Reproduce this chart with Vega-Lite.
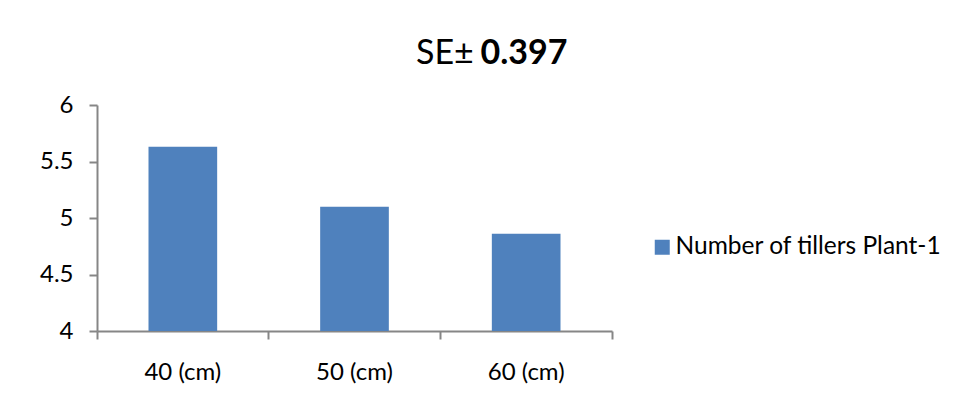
{
  "$schema": "https://vega.github.io/schema/vega-lite/v6.json",
  "width": 515,
  "height": 226,
  "autosize": {"type": "none"},
  "padding": {"left": 97, "top": 105, "right": 347, "bottom": 84},
  "background": "white",
  "title": {
    "text": "SE±",
    "anchor": "start",
    "frame": "group",
    "dx": 319,
    "align": "left",
    "font": "Lato",
    "fontSize": 34,
    "fontWeight": "normal",
    "color": "#000000",
    "offset": -35
  },
  "data": {
    "values": [
      {"spacing": "40 (cm)", "tillers": 5.63, "series": "Number of tillers Plant-1"},
      {"spacing": "50 (cm)", "tillers": 5.10, "series": "Number of tillers Plant-1"},
      {"spacing": "60 (cm)", "tillers": 4.86, "series": "Number of tillers Plant-1"}
    ]
  },
  "mark": {"type": "bar", "width": {"band": 0.4}, "clip": true},
  "encoding": {
    "x": {
      "field": "spacing",
      "type": "nominal",
      "sort": null,
      "scale": {"paddingInner": 0, "paddingOuter": 0},
      "axis": {
        "title": null,
        "labelAngle": 0,
        "bandPosition": 1,
        "tickExtra": true,
        "domainColor": "#868686",
        "domainWidth": 2,
        "tickColor": "#868686",
        "tickWidth": 2,
        "tickSize": 8,
        "labelFont": "Lato",
        "labelFontSize": 24,
        "labelColor": "#000000",
        "labelPadding": 21
      }
    },
    "y": {
      "field": "tillers",
      "type": "quantitative",
      "scale": {"domain": [4, 6]},
      "axis": {
        "title": "0.397",
        "titleAngle": 0,
        "titleAlign": "left",
        "titleBaseline": "alphabetic",
        "titleX": 383,
        "titleY": -42,
        "titleFont": "Lato",
        "titleFontSize": 34,
        "titleFontWeight": "bold",
        "titleColor": "#000000",
        "values": [4, 4.5, 5, 5.5, 6],
        "format": "~g",
        "grid": false,
        "domainColor": "#868686",
        "domainWidth": 2,
        "tickColor": "#868686",
        "tickWidth": 2,
        "tickSize": 8,
        "labelFont": "Lato",
        "labelFontSize": 24,
        "labelColor": "#000000",
        "labelPadding": 16
      }
    },
    "color": {
      "field": "series",
      "type": "nominal",
      "scale": {"range": ["#4F81BD"]},
      "legend": {
        "title": null,
        "orient": "none",
        "legendX": 553,
        "legendY": 130,
        "padding": 0,
        "symbolType": "square",
        "symbolSize": 225,
        "symbolStrokeWidth": 0,
        "labelFont": "Lato",
        "labelFontSize": 24.5,
        "labelColor": "#000000",
        "labelOffset": 1,
        "labelLimit": 400
      }
    }
  },
  "config": {"view": {"stroke": null}}
}
